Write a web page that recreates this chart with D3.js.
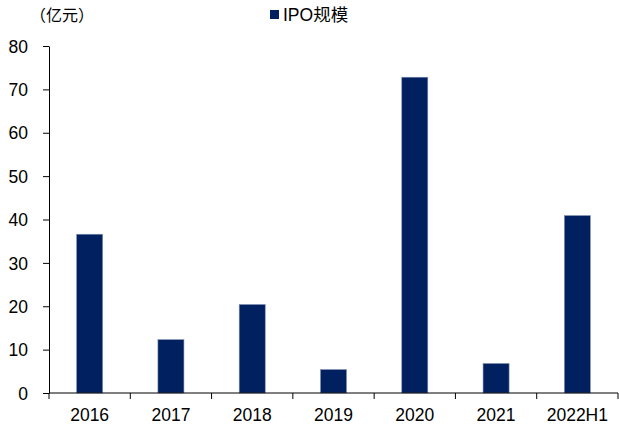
<!DOCTYPE html>
<html>
<head>
<meta charset="utf-8">
<script src="https://cdn.jsdelivr.net/npm/d3@7"></script>
<style>
  body { margin: 0; background: #fff; }
  text { font-family: "Liberation Sans", Arial, "Noto Sans CJK SC", sans-serif; fill: #000; }
</style>
</head>
<body>
<div id="chart"></div>
<script>
var width = 619;
var height = 430;

var categories = ['2016', '2017', '2018', '2019', '2020', '2021', '2022H1'];
var ipoValues = [36.6, 12.3, 20.4, 5.4, 72.8, 6.8, 40.9];
var yTicks = [0, 10, 20, 30, 40, 50, 60, 70, 80];

var margin = { left: 49, right: 1, top: 46, bottom: 37 };

var svg = d3.select('#chart')
  .append('svg')
  .attr('width', width)
  .attr('height', height);

var x = d3.scaleBand()
  .domain(categories)
  .range([margin.left, width - margin.right])
  .paddingInner(0.68)
  .paddingOuter(0.34);

var y = d3.scaleLinear()
  .domain([0, 80])
  .range([height - margin.bottom, margin.top]);

// bars
svg.selectAll('.bar')
  .data(ipoValues)
  .enter().append('rect')
  .attr('class', 'bar')
  .attr('x', function(d, i) { return x(categories[i]); })
  .attr('y', function(d) { return y(d); })
  .attr('width', x.bandwidth())
  .attr('height', function(d) { return y(0) - y(d); })
  .attr('fill', '#00205f')
  .attr('stroke', '#7f8fb0')
  .attr('stroke-width', 0.6);

// y axis
var yAxis = svg.append('g')
  .attr('transform', 'translate(' + margin.left + ',0)')
  .call(d3.axisLeft(y).tickValues(yTicks).tickSize(6).tickPadding(15).tickSizeOuter(0));
yAxis.selectAll('text').style('font-size', '17.5px').attr('dy', '0.35em');
yAxis.selectAll('line, path').attr('stroke', '#000');

// x axis with ticks at category boundaries
var xAxis = svg.append('g')
  .attr('transform', 'translate(0,' + y(0) + ')');
xAxis.append('line')
  .attr('x1', margin.left).attr('x2', width - margin.right)
  .attr('y1', 0).attr('y2', 0)
  .attr('stroke', '#000');
var step = x.step();
var bounds = categories.map(function(c) { return x(c) + x.bandwidth() / 2 - step / 2; });
bounds.push(width - margin.right);
xAxis.selectAll('.xtick')
  .data(bounds)
  .enter().append('line')
  .attr('x1', function(d) { return d; })
  .attr('x2', function(d) { return d; })
  .attr('y1', 0).attr('y2', 6)
  .attr('stroke', '#000');
xAxis.selectAll('.xlabel')
  .data(categories)
  .enter().append('text')
  .attr('x', function(d) { return x(d) + x.bandwidth() / 2; })
  .attr('y', 28)
  .attr('text-anchor', 'middle')
  .style('font-size', '17.5px')
  .text(function(d) { return d; });

// unit label
svg.append('text')
  .attr('x', 30)
  .attr('y', 21)
  .style('font-size', '16px')
  .style('font-family', '"Noto Sans CJK SC", sans-serif')
  .text('（亿元）');

// legend
svg.append('rect')
  .attr('x', 270).attr('y', 10)
  .attr('width', 9).attr('height', 9)
  .attr('fill', '#00205f');
svg.append('text')
  .attr('x', 283)
  .attr('y', 21)
  .style('font-size', '17.5px')
  .text('IPO规模');
</script>
</body>
</html>
